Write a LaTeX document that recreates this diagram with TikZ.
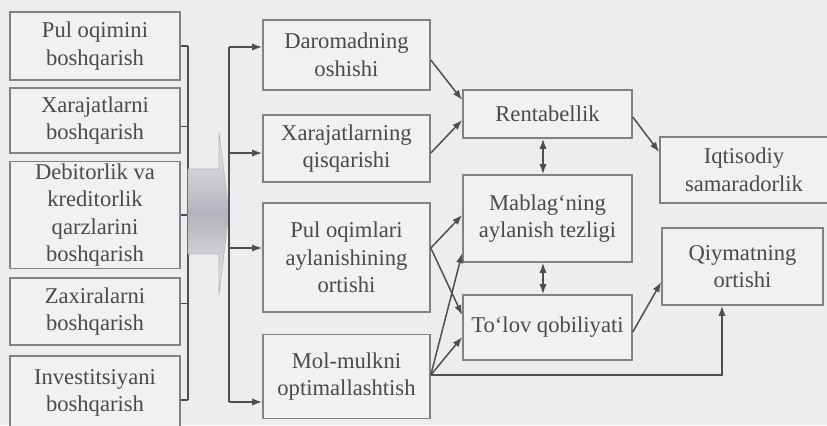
\documentclass[tikz,border=0pt]{standalone}
\usepackage{fontspec}
\setmainfont{Liberation Serif}
\usetikzlibrary{arrows.meta}
\definecolor{paper}{HTML}{EEECEF}
\definecolor{boxfill}{HTML}{F2F0F3}
\definecolor{boxline}{HTML}{828282}
\definecolor{inkgray}{HTML}{4A4A4A}
\definecolor{linegray}{HTML}{4F4F4F}
\definecolor{flowgray}{HTML}{B4B3BB}
\begin{document}
\begin{tikzpicture}[x=0.5pt,y=-0.5pt,>=Latex,
  blk/.style={draw=boxline,fill=boxfill,line width=0.8pt,align=center,inner sep=1pt,
    text=inkgray,font=\fontsize{11.3}{13.8}\selectfont},
  ln/.style={line width=0.75pt,linegray},
  a/.style={-{Latex[length=5pt,width=3.6pt]},line width=0.75pt,linegray},
  aa/.style={{Latex[length=5pt,width=3.6pt]}-{Latex[length=5pt,width=3.6pt]},line width=0.75pt,linegray}]
\fill[paper] (0,0) rectangle (827,425);
\useasboundingbox (0,0) rectangle (827,425);
\node[blk,minimum width=85pt,minimum height=34pt] (l1) at (95,46) {Pul oqimini\\boshqarish};
\node[blk,minimum width=85pt,minimum height=32.5pt] (l2) at (95,120.5) {Xarajatlarni\\boshqarish};
\node[blk,minimum width=85pt,minimum height=53pt] (l3) at (95,215) {Debitorlik va\\kreditorlik\\qarzlarini\\boshqarish};
\node[blk,minimum width=85pt,minimum height=33.5pt] (l4) at (95,311.5) {Zaxiralarni\\boshqarish};
\node[blk,minimum width=85pt,minimum height=37pt] (l5) at (95,393) {Investitsiyani\\boshqarish};
\node[blk,minimum width=83.5pt,minimum height=35pt] (m1) at (346.5,55) {Daromadning\\oshishi};
\node[blk,minimum width=83.5pt,minimum height=33.5pt] (m2) at (346.5,148.5) {Xarajatlarning\\qisqarishi};
\node[blk,minimum width=83.5pt,minimum height=54.5pt] (m3) at (346.5,257.5) {Pul oqimlari\\aylanishining\\ortishi};
\node[blk,minimum width=83.5pt,minimum height=42pt] (m4) at (346.5,376.5) {Mol-mulkni\\optimallashtish};
\node[blk,minimum width=84.5pt,minimum height=24pt] (r1) at (547.5,114) {Rentabellik};
\node[blk,minimum width=84.5pt,minimum height=43.5pt] (r2) at (547.5,218.5) {Mablag‘ning\\aylanish tezligi};
\node[blk,minimum width=84.5pt,minimum height=32.5pt] (r3) at (547.5,327.5) {To‘lov qobiliyati};
\node[blk,minimum width=84pt,minimum height=33pt] (ie) at (744,170) {Iqtisodiy\\samaradorlik};
\node[blk,minimum width=80.5pt,minimum height=38.5pt] (qo) at (742.5,266.5) {Qiymatning\\ortishi};
\coordinate (bus1) at (188,0); \coordinate (bus2) at (229,0);
\coordinate (s2) at ([yshift=-3pt]l2.east); \coordinate (s4) at ([yshift=4pt]l4.east);
\coordinate (s5) at ([yshift=-3.5pt]l5.east);
\draw[ln] (l1.east)--(l1.east -| bus1); \draw[ln] (s2)--(s2 -| bus1);
\draw[ln] (l3.east)--(l3.east -| bus1); \draw[ln] (s4)--(s4 -| bus1);
\draw[ln] (s5)--(s5 -| bus1); \draw[ln] (l1.east -| bus1)--(s5 -| bus1);
\shade[top color=paper,bottom color=paper,middle color=flowgray,draw=boxline!60,line width=0.3pt]
  (188,169)--(219,169)--(219,132)--(229,212)--(219,295)--(219,254)--(188,254)--cycle;
\coordinate (e1) at ([yshift=4pt]m1.west); \coordinate (e2) at ([yshift=-2.25pt]m2.west);
\coordinate (e3) at ([yshift=4.75pt]m3.west); \coordinate (e4) at ([yshift=-12.75pt]m4.west);
\draw[ln] (e1 -| bus2)--(e4 -| bus2);
\draw[a] (e1 -| bus2)--(e1); \draw[a] (e2 -| bus2)--(e2);
\draw[a] (e3 -| bus2)--(e3); \draw[a] (e4 -| bus2)--(e4);
\draw[a] ([yshift=-2.5pt]m1.east)--([yshift=7pt]r1.west);
\draw[a] ([yshift=-2.25pt]m2.east)--([yshift=-3pt]r1.west);
\draw[a] ([yshift=4.75pt]m3.east)--([yshift=1.75pt]r2.west);
\draw[a] ([yshift=4.75pt]m3.east)--([yshift=6.25pt]r3.west);
\draw[a] ([yshift=0.75pt]m4.east)--([yshift=-17.25pt]r2.west);
\draw[a] ([yshift=0.75pt]m4.east)--([yshift=-4.75pt]r3.west);
\draw[a] ([yshift=0.75pt]m4.east) -| ([xshift=-10.25pt]qo.south);
\draw[aa] ([xshift=-2.25pt]r1.south)--([xshift=-2.25pt]r2.north);
\draw[aa] ([xshift=-2.25pt]r2.south)--([xshift=-2.25pt]r3.north);
\draw[a] ([yshift=-1.5pt]r1.east)--([yshift=9pt]ie.west);
\draw[a] ([yshift=-2.25pt]r3.east)--([yshift=-7.75pt]qo.west);
\end{tikzpicture}
\end{document}
